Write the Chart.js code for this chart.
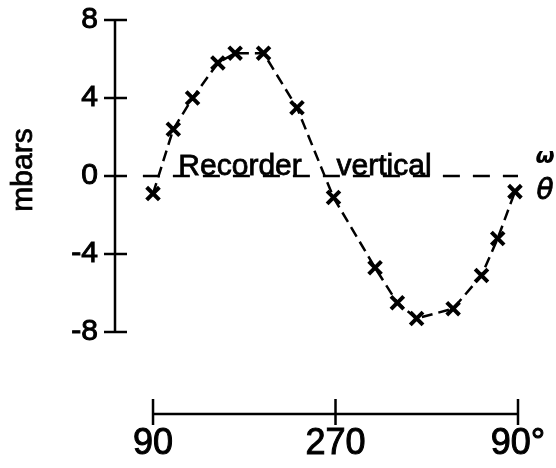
<!DOCTYPE html>
<html>
<head>
<meta charset="utf-8">
<script src="https://cdn.jsdelivr.net/npm/chart.js@4"></script>
<style>
    html, body { margin: 0; padding: 0; background: #fff; }
    #wrap { width: 556px; height: 468px; }
</style>
</head>
<body>
<div id="wrap"><canvas id="phaseChart" width="556" height="468"></canvas></div>
<script>
// phase angle (deg) and pressure (mbars)
const phaseDeg = [90, 110, 129, 154, 171, 199, 232, 268, 309, 331, 350, 386, 414, 430, 447];
const pressure = [-0.9, 2.4, 4.0, 5.8, 6.3, 6.3, 3.5, -1.1, -4.7, -6.5, -7.3, -6.8, -5.1, -3.2, -0.8];

// "Recorder vertical" reference line
const refLineX = [80, 450];
const refLineY = [0, 0];

const yTicks = [8, 4, 0, -4, -8];
const xTicks = [90, 270, 450];
const xTickLabels = ['90', '270', '90°'];

const ink = '#000';
const fontFam = '"Liberation Sans", Arial, sans-serif';

const axesAndNotes = {
    id: 'axesAndNotes',
    afterDatasetsDraw(chart) {
        const c = chart.ctx;
        const xs = chart.scales.x;
        const ys = chart.scales.y;
        const area = chart.chartArea;
        c.save();
        c.strokeStyle = ink;
        c.fillStyle = ink;
        c.lineWidth = 2.5;
        c.setLineDash([]);

        // y axis, only from 8 to -8
        const ax = area.left;
        c.beginPath();
        c.moveTo(ax, ys.getPixelForValue(yTicks[0]));
        c.lineTo(ax, ys.getPixelForValue(yTicks[yTicks.length - 1]));
        yTicks.forEach(v => {
            const py = ys.getPixelForValue(v);
            c.moveTo(ax - 11, py);
            c.lineTo(ax + 12, py);
        });
        c.stroke();

        // x axis, separate bar below the plot
        const ay = area.bottom;
        c.beginPath();
        c.moveTo(xs.getPixelForValue(xTicks[0]), ay);
        c.lineTo(xs.getPixelForValue(xTicks[xTicks.length - 1]), ay);
        xTicks.forEach(v => {
            const px = xs.getPixelForValue(v);
            c.moveTo(px, ay - 15);
            c.lineTo(px, ay + 11);
        });
        c.stroke();

        c.lineWidth = 0.8;

        // axis title
        c.save();
        c.translate(24, 170);
        c.rotate(-Math.PI / 2);
        c.font = '30px ' + fontFam;
        c.textAlign = 'center';
        c.textBaseline = 'middle';
        c.fillText('mbars', 0, 0);
        c.strokeText('mbars', 0, 0);
        c.restore();

        // label on the reference line
        const zy = ys.getPixelForValue(0) - 1;
        c.font = '30px ' + fontFam;
        c.textAlign = 'left';
        c.textBaseline = 'alphabetic';
        c.fillText('Recorder', xs.getPixelForValue(115), zy);
        c.strokeText('Recorder', xs.getPixelForValue(115), zy);
        c.fillText('vertical', xs.getPixelForValue(271), zy);
        c.strokeText('vertical', xs.getPixelForValue(271), zy);

        // omega / theta at the right end
        c.textAlign = 'center';
        c.font = 'italic bold 22px "DejaVu Sans", sans-serif';
        c.fillText('ω', 545, 163);
        c.font = 'italic 28px "DejaVu Sans", sans-serif';
        c.textBaseline = 'middle';
        c.fillText('θ', 545, 192);
        c.strokeText('θ', 545, 192);
        c.restore();
    }
};

const ctx = document.getElementById('phaseChart').getContext('2d');

const phaseChart = new Chart(ctx, {
    type: 'scatter',
    data: {
        datasets: [{
            label: 'pressure',
            data: phaseDeg.map((d, i) => ({ x: d, y: pressure[i] })),
            showLine: true,
            borderColor: ink,
            borderWidth: 2.5,
            borderDash: [11, 6],
            tension: 0,
            pointStyle: 'crossRot',
            pointRadius: 9,
            pointBorderWidth: 4,
            pointBorderColor: ink,
            clip: false
        },
        {
            label: 'recorder vertical',
            data: refLineX.map((d, i) => ({ x: d, y: refLineY[i] })),
            showLine: true,
            borderColor: ink,
            borderWidth: 2.5,
            borderDash: [17, 13],
            pointRadius: 0,
            clip: false
        }]
    },
    options: {
        responsive: false,
        animation: false,
        devicePixelRatio: 1,
        layout: {
            padding: { top: 20, right: 38, left: 0, bottom: 0 }
        },
        scales: {
            x: {
                type: 'linear',
                min: 52.5,
                max: 450,
                afterBuildTicks: function (scale) {
                    scale.ticks = xTicks.map(v => ({ value: v }));
                },
                afterFit: function (scale) {
                    scale.height = 54;
                    scale.paddingLeft = 0;
                    scale.paddingRight = 0;
                },
                grid: { display: false, drawTicks: false },
                border: { display: false },
                ticks: {
                    color: ink,
                    padding: 8,
                    maxRotation: 0,
                    textStrokeColor: ink,
                    textStrokeWidth: 1,
                    font: { family: fontFam, size: 36 },
                    callback: function (value) {
                        return xTickLabels[xTicks.indexOf(value)];
                    }
                }
            },
            y: {
                min: -12.2,
                max: 8,
                afterBuildTicks: function (scale) {
                    scale.ticks = yTicks.map(v => ({ value: v }));
                },
                afterFit: function (scale) {
                    scale.width = 115;
                    scale.paddingTop = 0;
                    scale.paddingBottom = 0;
                },
                grid: { display: false, drawTicks: false },
                border: { display: false },
                ticks: {
                    color: ink,
                    padding: 17,
                    textStrokeColor: ink,
                    textStrokeWidth: 1,
                    font: { family: fontFam, size: 30 }
                }
            }
        },
        plugins: {
            legend: { display: false },
            tooltip: { enabled: false }
        }
    },
    plugins: [axesAndNotes]
});
</script>
</body>
</html>
